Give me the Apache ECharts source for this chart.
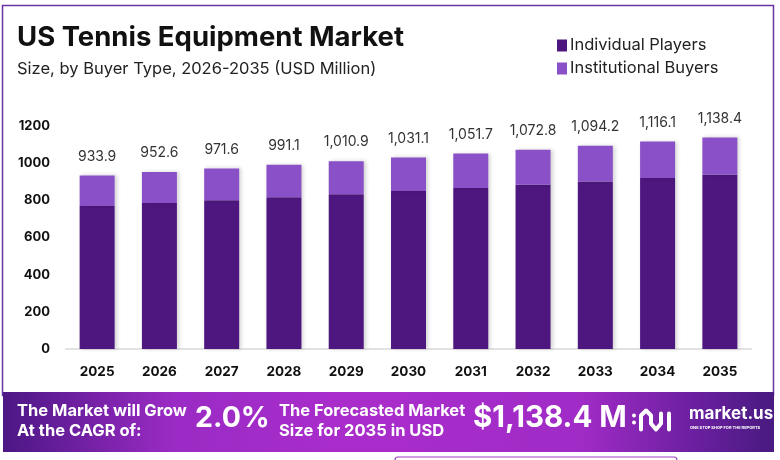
<!DOCTYPE html>
<html>
<head>
<meta charset="utf-8">
<script src="https://cdn.jsdelivr.net/npm/echarts@6/dist/echarts.min.js"></script>
<style>
html,body{margin:0;padding:0;background:#fff;}
#main{width:780px;height:460px;}
</style>
</head>
<body>
<div id="main"></div>
<script>
var years = ['2025','2026','2027','2028','2029','2030','2031','2032','2033','2034','2035'];
var totals = [933.9, 952.6, 971.6, 991.1, 1010.9, 1031.1, 1051.7, 1072.8, 1094.2, 1116.1, 1138.4];
var individual = [770, 785, 801, 817, 833, 850, 867, 884, 902, 920, 938];
var institutional = [163.9, 167.6, 170.6, 174.1, 177.9, 181.1, 184.7, 188.8, 192.2, 196.1, 200.4];
var yTicks = [0, 200, 400, 600, 800, 1000, 1200];

var FONT = 'Inter, "Noto Sans", sans-serif';
var DARK = '#4e1780';
var LIGHT = '#8a50c8';

function fmt(v){
    var s = v.toFixed(1).split('.');
    return s[0].replace(/\B(?=(\d{3})+(?!\d))/g, ',') + '.' + s[1];
}

var myChart = echarts.init(document.getElementById('main'));

var barShadow = {shadowColor: 'rgba(0,0,0,0.18)', shadowBlur: 4, shadowOffsetX: 2, shadowOffsetY: 0};

var option = {
    backgroundColor: '#fff',
    animation: false,
    textStyle: {fontFamily: FONT},
    title: {
        text: 'US Tennis Equipment Market',
        subtext: 'Size, by Buyer Type, 2026-2035 (USD Million)',
        left: 12,
        top: 19,
        itemGap: 9,
        textStyle: {fontFamily: FONT, fontSize: 27.5, fontWeight: 'bold', color: '#111'},
        subtextStyle: {fontFamily: FONT, fontSize: 16.5, color: '#222'}
    },
    legend: {
        orient: 'vertical',
        left: 552,
        top: 32,
        itemWidth: 10,
        itemHeight: 12,
        itemGap: 6,
        icon: 'rect',
        textStyle: {fontFamily: FONT, fontSize: 16.5, color: '#222', padding: [0, 0, 0, -2]},
        data: ['Individual Players', 'Institutional Buyers']
    },
    grid: {left: 66, right: 29, top: 126, bottom: 111, containLabel: false},
    xAxis: {
        type: 'category',
        data: years,
        axisLine: {lineStyle: {color: '#e2e2e2', width: 2}},
        axisTick: {show: false},
        axisLabel: {fontFamily: FONT, fontSize: 13.5, fontWeight: 'bold', color: '#111', margin: 16}
    },
    yAxis: {
        type: 'value',
        min: yTicks[0],
        max: yTicks[yTicks.length - 1],
        interval: 200,
        splitLine: {show: false},
        axisLine: {show: false},
        axisTick: {show: false},
        axisLabel: {fontFamily: FONT, fontSize: 13, fontWeight: 'bold', color: '#111', margin: 16,
            formatter: function (v) { return String(v); }}
    },
    series: [
        {
            name: 'Individual Players',
            type: 'bar',
            stack: 'total',
            barWidth: 35,
            itemStyle: Object.assign({color: DARK}, barShadow),
            data: individual
        },
        {
            name: 'Institutional Buyers',
            type: 'bar',
            stack: 'total',
            barWidth: 35,
            itemStyle: Object.assign({color: LIGHT}, barShadow),
            label: {
                show: true,
                position: 'top',
                distance: 12,
                fontFamily: FONT,
                fontSize: 14,
                color: '#333',
                formatter: function (p) { return fmt(totals[p.dataIndex]); }
            },
            data: institutional
        }
    ],
    graphic: [
        {
            type: 'rect', z: -1, silent: true,
            shape: {x: 2.5, y: 5.5, width: 771, height: 390},
            style: {fill: 'none', stroke: '#6a33a6', lineWidth: 1.5}
        },
        {
            type: 'rect', z: 10, silent: true,
            shape: {x: 3, y: 392, width: 771, height: 60},
            style: {
                fill: new echarts.graphic.LinearGradient(0, 0, 1, 0, [
                    {offset: 0, color: '#4c1785'},
                    {offset: 0.22, color: '#9a2bc4'},
                    {offset: 0.45, color: '#aa2dcb'},
                    {offset: 0.75, color: '#a02bc6'},
                    {offset: 0.9, color: '#6a1f9f'},
                    {offset: 1, color: '#481a80'}
                ])
            }
        },
        {
            type: 'text', z: 11, left: 17, top: 401,
            style: {text: 'The Market will Grow\nAt the CAGR of:', fill: '#fff', fontFamily: FONT, fontSize: 16.5, fontWeight: 'bold', lineHeight: 20}
        },
        {
            type: 'text', z: 11, left: 195, top: 404,
            style: {text: '2.0%', fill: '#fff', fontFamily: FONT, fontSize: 28.5, fontWeight: 'bold',
                shadowColor: 'rgba(0,0,0,0.35)', shadowBlur: 4, shadowOffsetX: 1, shadowOffsetY: 2}
        },
        {
            type: 'text', z: 11, left: 279, top: 401,
            style: {text: 'The Forecasted Market\nSize for 2035 in USD', fill: '#fff', fontFamily: FONT, fontSize: 16.5, fontWeight: 'bold', lineHeight: 20}
        },
        {
            type: 'text', z: 11, left: 473, top: 403,
            style: {text: '$1,138.4 M', fill: '#fff', fontFamily: FONT, fontSize: 29.5, fontWeight: 'bold',
                shadowColor: 'rgba(0,0,0,0.35)', shadowBlur: 4, shadowOffsetX: 1, shadowOffsetY: 2}
        },
        {
            type: 'group', z: 11, left: 632, top: 408,
            children: [
                {type: 'circle', z: 12, shape: {cx: 3, cy: 9, r: 2}, style: {fill: '#fff'}},
                {type: 'circle', z: 12, shape: {cx: 3, cy: 16, r: 2}, style: {fill: '#fff'}},
                {type: 'polyline', z: 12, shape: {points: [[10, 23], [10, 9], [15, 4], [20, 9], [20, 17], [25, 23], [30, 17], [30, 7]]},
                    style: {stroke: '#fff', lineWidth: 4, fill: 'none', lineCap: 'round', lineJoin: 'round'}},
                {type: 'line', z: 12, shape: {x1: 38, y1: 7, x2: 38, y2: 23}, style: {stroke: '#fff', lineWidth: 4, lineCap: 'round'}}
            ]
        },
        {
            type: 'text', z: 11, left: 689, top: 405,
            style: {text: 'market.us', fill: '#fff', fontFamily: FONT, fontSize: 17, fontWeight: 'bold'}
        },
        {
            type: 'text', z: 11, left: 690, top: 426,
            style: {text: 'ONE STOP SHOP FOR THE REPORTS', fill: '#fff', fontFamily: FONT, fontSize: 4, fontWeight: 'bold'}
        },
        {
            type: 'rect', silent: true,
            shape: {x: 395, y: 457, width: 282, height: 12, r: 3},
            style: {fill: '#fff', stroke: '#9b3fc4', lineWidth: 1.2}
        }
    ]
};

myChart.setOption(option);
</script>
</body>
</html>
